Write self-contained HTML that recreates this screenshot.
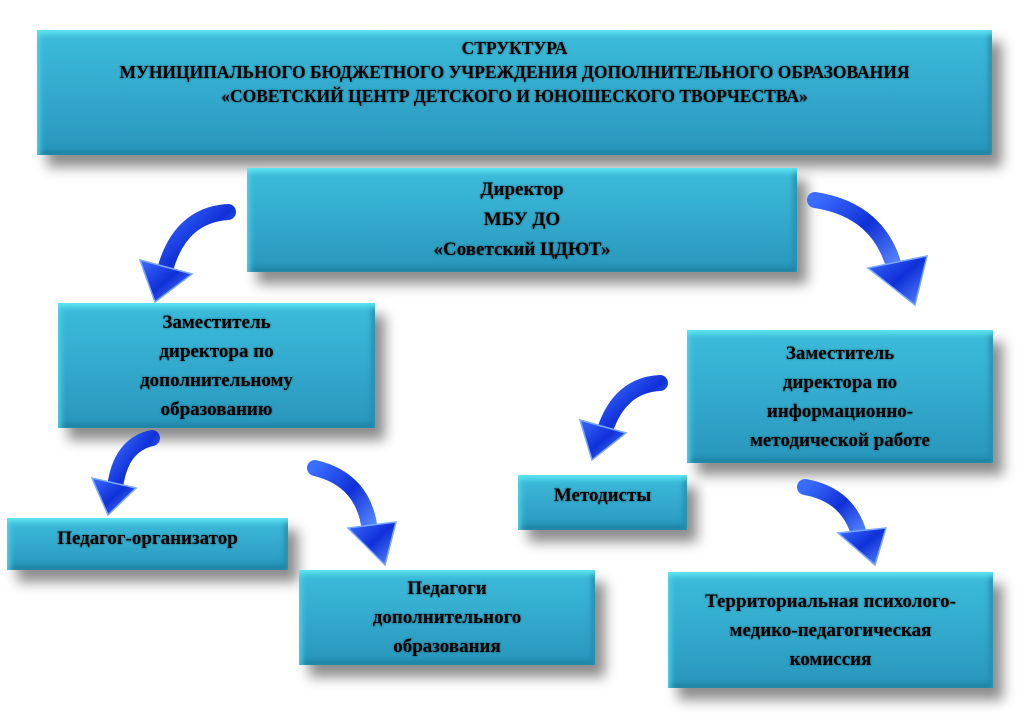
<!DOCTYPE html>
<html><head><meta charset="utf-8"><style>
body{margin:0;width:1024px;height:724px;background:#fff;position:relative;overflow:hidden;font-family:"Liberation Serif","Noto Serif CJK SC",serif;}
.b{position:absolute;box-sizing:border-box;background:linear-gradient(180deg,#3cbcda 0%,#33aacd 50%,#2896bb 100%);
box-shadow:inset 0 7px 6px -3px #5ee6f2,inset 6px 0 6px -3px #4fd0e6,inset -6px 0 6px -3px #2388aa,inset 0 -7px 6px -3px #1f7fa0,10px 12px 12px rgba(0,0,0,.45);
display:flex;flex-direction:column;justify-content:center;align-items:center;text-align:center;font-weight:bold;color:#000;font-size:19px;line-height:29px;text-shadow:0 0 2px rgba(0,0,0,.5);}
svg{position:absolute;left:0;top:0}
</style></head><body>
<div class="b" style="left:37px;top:30px;width:955px;height:125px;font-size:17.5px;line-height:24px;justify-content:flex-start;padding-top:6px">СТРУКТУРА<br>МУНИЦИПАЛЬНОГО БЮДЖЕТНОГО УЧРЕЖДЕНИЯ ДОПОЛНИТЕЛЬНОГО ОБРАЗОВАНИЯ<br>«СОВЕТСКИЙ ЦЕНТР ДЕТСКОГО И ЮНОШЕСКОГО ТВОРЧЕСТВА»</div>
<div class="b" style="left:247px;top:168px;width:550px;height:104px;line-height:30px">Директор<br>МБУ ДО<br>«Советский ЦДЮТ»</div>
<div class="b" style="left:58px;top:303px;width:317px;height:125px;">Заместитель<br>директора по<br>дополнительному<br>образованию</div>
<div class="b" style="left:687px;top:330px;width:306px;height:133px;">Заместитель<br>директора по<br>информационно-<br>методической работе</div>
<div class="b" style="left:518px;top:475px;width:169px;height:55px;justify-content:flex-start;padding-top:6px">Методисты</div>
<div class="b" style="left:7px;top:518px;width:281px;height:52px;justify-content:flex-start;padding-top:6px">Педагог-организатор</div>
<div class="b" style="left:299px;top:570px;width:296px;height:95px;">Педагоги<br>дополнительного<br>образования</div>
<div class="b" style="left:668px;top:572px;width:325px;height:116px;">Территориальная психолого-<br>медико-педагогическая<br>комиссия</div>
<svg width="1024" height="724">
<defs><linearGradient id="g" x1="0" y1="0" x2="1" y2="1"><stop offset="0" stop-color="#3a6cff"/><stop offset=".5" stop-color="#1030d8"/><stop offset="1" stop-color="#5a8cff"/></linearGradient></defs>
<g fill="none" stroke="url(#g)" stroke-width="16" stroke-linecap="round">
<path d="M228 212 Q180 215 165 270"/>
<path d="M815 200 Q880 210 895 270"/>
<path d="M152 438 Q120 445 115 488"/>
<path d="M315 468 Q365 480 370 532"/>
<path d="M660 383 Q620 385 605 430"/>
<path d="M805 487 Q850 495 860 538"/>
</g>
<g fill="url(#g)" stroke="#7aa8ff" stroke-width="1.5">
<polygon points="155,302 140,260 192,274"/>
<polygon points="915,305 868,268 927,256"/>
<polygon points="108,515 92,478 136,488"/>
<polygon points="385,565 348,528 396,522"/>
<polygon points="592,460 580,420 626,433"/>
<polygon points="875,565 838,533 886,528"/>
</g>
</svg>
</body></html>
